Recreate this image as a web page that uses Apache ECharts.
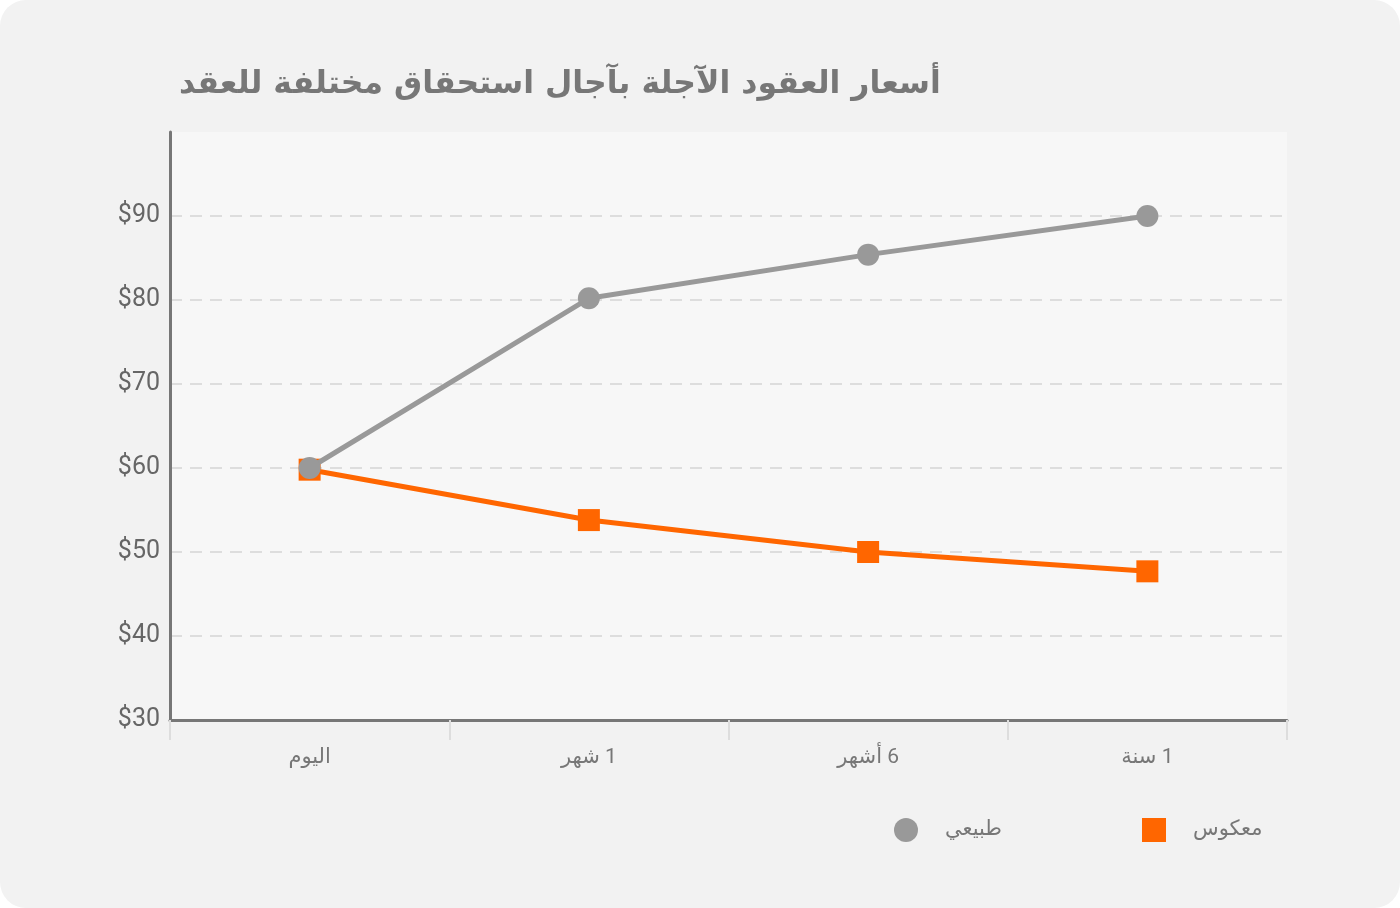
<!DOCTYPE html>
<html>
<head>
<meta charset="utf-8">
<script src="https://cdn.jsdelivr.net/npm/echarts@6/dist/echarts.min.js"></script>
<style>
  html, body { margin: 0; padding: 0; background: #ffffff; }
  #wrap { width: 1400px; height: 908px; background: #f2f2f2; border-radius: 26px; overflow: hidden; }
  #chart { width: 1400px; height: 908px; }
</style>
</head>
<body>
<div id="wrap"><div id="chart"></div></div>
<script>
// RLM prefix keeps the digit on the right, as in right-to-left text
var categories = ['اليوم', '\u200F1 شهر', '\u200F6 أشهر', '\u200F1 سنة'];
var normalValues = [60, 80.2, 85.4, 90];
var reverseValues = [59.8, 53.8, 50, 47.7];
var normalName = 'طبيعي';
var reverseName = 'معكوس';

var chart = echarts.init(document.getElementById('chart'), null, { renderer: 'canvas' });

var option = {
  backgroundColor: 'transparent',
  textStyle: { fontFamily: 'Roboto, "DejaVu Sans", sans-serif' },
  title: {
    text: 'أسعار العقود الآجلة بآجال استحقاق مختلفة للعقد',
    left: 174,
    top: 64,
    textStyle: {
      fontFamily: '"DejaVu Sans", sans-serif',
      fontSize: 31.5,
      fontWeight: 'bold',
      color: '#777777'
    }
  },
  grid: {
    left: 170,
    right: 113,
    top: 132,
    bottom: 188,
    show: true,
    backgroundColor: '#f7f7f7',
    borderWidth: 0
  },
  legend: {
    data: [
      { name: normalName, icon: 'circle', itemStyle: { color: '#999999' } },
      { name: reverseName, icon: 'rect', itemStyle: { color: '#ff6600' } }
    ],
    left: 889,
    top: 813,
    itemWidth: 24,
    itemHeight: 24,
    itemGap: 140,
    textStyle: { fontSize: 21, color: '#777777', padding: [0, 0, 0, 22] }
  },
  xAxis: {
    type: 'category',
    data: categories,
    boundaryGap: true,
    axisLine: { lineStyle: { color: '#777777', width: 3 } },
    axisTick: { show: true, length: 20, lineStyle: { color: '#dddddd', width: 2 } },
    axisLabel: { fontSize: 21, color: '#777777', margin: 27 },
    splitLine: { show: false }
  },
  yAxis: {
    type: 'value',
    min: 30,
    max: 100,
    interval: 10,
    axisLine: { show: true, lineStyle: { color: '#777777', width: 3 } },
    axisTick: { show: false },
    axisLabel: {
      fontSize: 25,
      color: '#666666',
      margin: 10,
      showMaxLabel: false,
      formatter: function (v) { return '$' + v; }
    },
    splitLine: {
      show: true,
      showMinLine: false,
      showMaxLine: false,
      lineStyle: { color: '#dddddd', width: 2, type: [12, 8] }
    }
  },
  series: [
    {
      name: reverseName,
      type: 'line',
      data: reverseValues,
      symbol: 'rect',
      symbolSize: 22,
      itemStyle: { color: '#ff6600' },
      lineStyle: { color: '#ff6600', width: 5 },
      z: 2
    },
    {
      name: normalName,
      type: 'line',
      data: normalValues,
      symbol: 'circle',
      symbolSize: 22,
      itemStyle: { color: '#999999' },
      lineStyle: { color: '#999999', width: 5 },
      z: 3
    }
  ],
  animation: false
};

chart.setOption(option);
window.addEventListener('resize', chart.resize);
</script>
</body>
</html>
